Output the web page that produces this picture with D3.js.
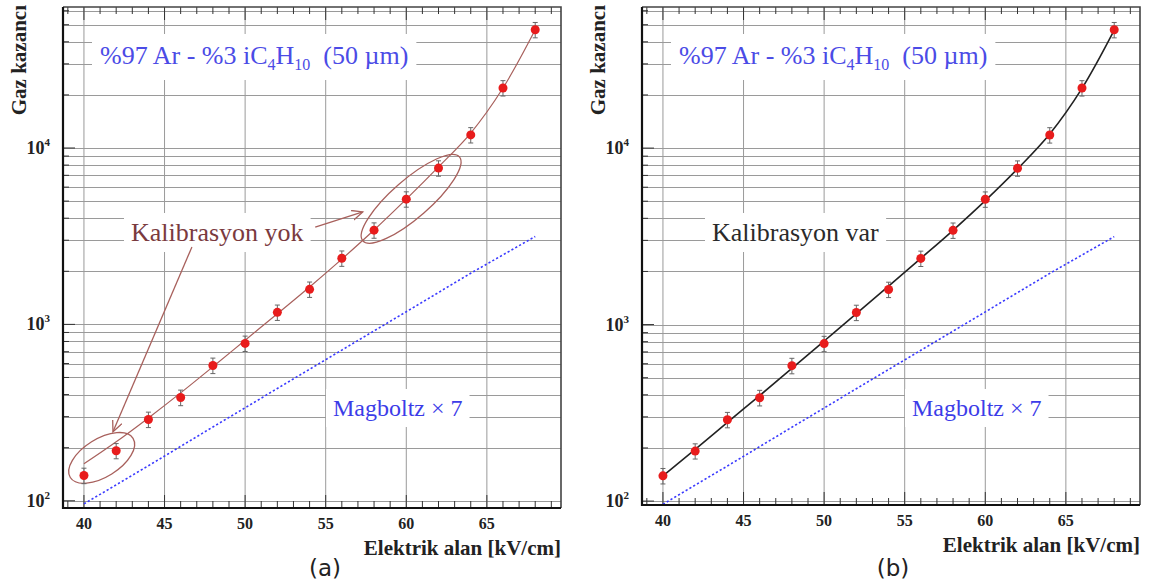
<!DOCTYPE html>
<html>
<head>
<meta charset="utf-8">
<script src="https://cdnjs.cloudflare.com/ajax/libs/d3/7.8.5/d3.min.js"></script>
<style>
  body { margin: 0; background: #fff; }
  svg { display: block; }
</style>
</head>
<body>
<svg id="chart" width="1152" height="582"></svg>
<script>
// Measured gas gain vs. electric field, %97 Ar - %3 iC4H10, 50 µm gap
const fieldKV = [40, 42, 44, 46, 48, 50, 52, 54, 56, 58, 60, 62, 64, 66, 68];
const gasGain = [139, 192, 289, 385, 585, 780, 1170, 1580, 2370, 3420, 5130, 7690, 11860, 21900, 46800];
const gasGainErr = [14, 19, 29, 39, 59, 78, 117, 158, 237, 342, 513, 769, 1186, 2190, 4680];

// Fitted curves: without calibration (a) and with calibration (b)
const fitUncalibrated = [162, 216, 295, 409, 575, 813, 1148, 1629, 2344, 3428, 5129, 7816, 12160, 21880, 46770];
const fitCalibrated = [139, 196, 279, 396, 565, 807, 1153, 1652, 2371, 3420, 5035, 7620, 12020, 21780, 46560];

// Magboltz simulation, scaled by 7
const magboltzField = [40, 44, 48, 52, 56, 60, 64, 68];
const magboltzGain = [96, 158, 262, 433, 715, 1180, 1950, 3150];

const xTicks = [40, 45, 50, 55, 60, 65];
const yDecades = [2, 3, 4];

const serif = "'Liberation Serif', 'Times New Roman', serif";
const svg = d3.select("#chart");

const defs = svg.append("defs");
defs.append("marker")
  .attr("id", "openArrow")
  .attr("markerUnits", "userSpaceOnUse")
  .attr("markerWidth", 14).attr("markerHeight", 12)
  .attr("refX", 11).attr("refY", 5)
  .attr("orient", "auto")
  .append("path")
  .attr("d", "M0,0 L11,5 L0,10")
  .attr("fill", "none")
  .attr("stroke", "#a8605c")
  .attr("stroke-width", 1.3);

const panels = [
  { left: 63, right: 561, top: 7, bottom: 508, yMin: 91, fit: fitUncalibrated,
    fitColor: "#a8605c", fitWidth: 1.2, tag: "(a)", tagX: 325, calibrated: false },
  { left: 642, right: 1140, top: 7, bottom: 505, yMin: 95, fit: fitCalibrated,
    fitColor: "#222", fitWidth: 1.6, tag: "(b)", tagX: 893, calibrated: true }
];

function boxedText(g, x, y, parts, opts) {
  const t = g.append("text")
    .attr("x", x).attr("y", y)
    .attr("font-family", serif)
    .attr("font-size", opts.size)
    .attr("fill", opts.color);
  parts.forEach(p => {
    const s = t.append("tspan").text(p.text);
    if (p.size) s.attr("font-size", p.size);
    if (p.dy) s.attr("dy", p.dy);
  });
  const bb = t.node().getBBox();
  g.insert("rect", () => t.node())
    .attr("x", bb.x - opts.padX).attr("y", bb.y - opts.padY)
    .attr("width", bb.width + 2 * opts.padX).attr("height", bb.height + 2 * opts.padY)
    .attr("fill", "#fff");
  return t;
}

panels.forEach(p => {
  const g = svg.append("g");
  const x = d3.scaleLinear().domain([38.7, 69.6]).range([p.left, p.right]);
  const y = d3.scaleLog().domain([p.yMin, 63000]).range([p.bottom, p.top]);

  // grid: vertical at major x ticks, horizontal at every log tick
  const yGrid = [];
  for (let d = 1; d <= 4; d++) {
    for (let m = 1; m <= 9; m++) {
      const v = m * Math.pow(10, d);
      if (v > p.yMin && v < 63000) yGrid.push(v);
    }
  }
  const grid = g.append("g").attr("stroke", "#9a9a9a").attr("stroke-width", 1).attr("fill", "none");
  grid.selectAll("line.gx").data(xTicks).join("line")
    .attr("x1", d => x(d)).attr("x2", d => x(d))
    .attr("y1", p.top).attr("y2", p.bottom);
  grid.selectAll("line.gy").data(yGrid).join("line")
    .attr("x1", p.left).attr("x2", p.right)
    .attr("y1", d => Math.round(y(d)) + 0.5).attr("y2", d => Math.round(y(d)) + 0.5);

  // tick marks on the frame
  const minorX = d3.range(39, 70, 1);
  const ticks = g.append("g").attr("stroke", "#333").attr("stroke-width", 1);
  ticks.selectAll("line.bt").data(minorX).join("line")
    .attr("x1", d => x(d)).attr("x2", d => x(d))
    .attr("y1", p.bottom).attr("y2", d => p.bottom - (d % 5 === 0 ? 13 : 7));
  ticks.selectAll("line.tt").data(minorX).join("line")
    .attr("x1", d => x(d)).attr("x2", d => x(d))
    .attr("y1", p.top).attr("y2", d => p.top + (d % 5 === 0 ? 13 : 7));
  ticks.selectAll("line.lt").data(yGrid).join("line")
    .attr("x1", p.left).attr("x2", d => p.left + (yDecades.includes(Math.log10(d)) ? 12 : 6))
    .attr("y1", d => y(d)).attr("y2", d => y(d));

  // text boxes
  const ann = g.append("g");
  boxedText(ann, p.left + 37, 64, [
    { text: "%97 Ar - %3 iC" },
    { text: "4", size: 16, dy: 6 },
    { text: "H", dy: -6 },
    { text: "10", size: 16, dy: 6 },
    { text: "\u00a0\u00a0(50 \u00b5m)", dy: -6 }
  ], { size: 26, color: "#4b4be6", padX: 8, padY: 7 });

  boxedText(ann, p.left + 270, 416, [{ text: "Magboltz \u00d7 7" }],
    { size: 24, color: "#3c3ce8", padX: 7, padY: 6 });

  if (p.calibrated) {
    boxedText(ann, p.left + 70, 241, [{ text: "Kalibrasyon var" }],
      { size: 26, color: "#2a2a2a", padX: 7, padY: 5 });
  } else {
    boxedText(ann, p.left + 68, 241, [{ text: "Kalibrasyon yok" }],
      { size: 26, color: "#7a3a3e", padX: 7, padY: 5 });

    // ellipses around the points that were off before calibration
    const ring = ann.append("g").attr("fill", "none").attr("stroke", "#a8605c").attr("stroke-width", 1.3);
    ring.append("ellipse")
      .attr("transform", `translate(${x(41.1)},${y(175)}) rotate(-32)`)
      .attr("rx", 37).attr("ry", 19);
    ring.append("ellipse")
      .attr("transform", `translate(${x(60.3)},${y(5150)}) rotate(-41)`)
      .attr("rx", 64).attr("ry", 19);

    const arrows = ann.append("g").attr("stroke", "#a8605c").attr("stroke-width", 1.3)
      .attr("marker-end", "url(#openArrow)");
    arrows.append("line")
      .attr("x1", x(46.7)).attr("y1", y(2750))
      .attr("x2", x(41.8)).attr("y2", y(246));
    arrows.append("line")
      .attr("x1", x(54.35)).attr("y1", y(3565))
      .attr("x2", x(57.3)).attr("y2", y(4340));
  }

  // Magboltz x7 (dotted)
  g.append("path")
    .datum(magboltzField.map((f, i) => [f, magboltzGain[i]]))
    .attr("fill", "none")
    .attr("stroke", "#3a3aff")
    .attr("stroke-width", 1.6)
    .attr("stroke-dasharray", "2.2,2.2")
    .attr("d", d3.line().x(d => x(d[0])).y(d => y(d[1])));

  // fitted curve
  g.append("path")
    .datum(fieldKV.map((f, i) => [f, p.fit[i]]))
    .attr("fill", "none")
    .attr("stroke", p.fitColor)
    .attr("stroke-width", p.fitWidth)
    .attr("d", d3.line().curve(d3.curveCatmullRom).x(d => x(d[0])).y(d => y(d[1])));

  // data points with error bars
  const pts = fieldKV.map((f, i) => ({ f, v: gasGain[i], e: gasGainErr[i] }));
  const eb = g.append("g").attr("stroke", "#666").attr("stroke-width", 1);
  eb.selectAll("line.bar").data(pts).join("line")
    .attr("x1", d => x(d.f)).attr("x2", d => x(d.f))
    .attr("y1", d => y(d.v - d.e)).attr("y2", d => y(d.v + d.e));
  eb.selectAll("line.capT").data(pts).join("line")
    .attr("x1", d => x(d.f) - 2.5).attr("x2", d => x(d.f) + 2.5)
    .attr("y1", d => y(d.v + d.e)).attr("y2", d => y(d.v + d.e));
  eb.selectAll("line.capB").data(pts).join("line")
    .attr("x1", d => x(d.f) - 2.5).attr("x2", d => x(d.f) + 2.5)
    .attr("y1", d => y(d.v - d.e)).attr("y2", d => y(d.v - d.e));
  g.append("g").selectAll("circle").data(pts).join("circle")
    .attr("cx", d => x(d.f)).attr("cy", d => y(d.v))
    .attr("r", 4.5).attr("fill", "#e81c1c");

  // frame
  g.append("path")
    .attr("d", `M${p.left},${p.top} H${p.right} V${p.bottom}`)
    .attr("fill", "none").attr("stroke", "#444").attr("stroke-width", 1.6);
  g.append("path")
    .attr("d", `M${p.left},${p.top} V${p.bottom} H${p.right}`)
    .attr("fill", "none").attr("stroke", "#111").attr("stroke-width", 2.2);

  // axis labels
  g.append("g").selectAll("text").data(xTicks).join("text")
    .attr("x", d => x(d)).attr("y", p.bottom + 21)
    .attr("text-anchor", "middle")
    .attr("font-family", serif).attr("font-weight", "bold")
    .attr("font-size", 16).attr("fill", "#222")
    .text(d => d);

  const yl = g.append("g").selectAll("text").data(yDecades).join("text")
    .attr("x", p.left - 13).attr("y", d => y(Math.pow(10, d)) + 6)
    .attr("text-anchor", "end")
    .attr("font-family", serif).attr("font-weight", "bold")
    .attr("font-size", 18).attr("fill", "#222");
  yl.append("tspan").text("10");
  yl.append("tspan").attr("dy", -8).attr("font-size", 11).text(d => d);

  g.append("text")
    .attr("x", p.right).attr("y", p.bottom + 47)
    .attr("text-anchor", "end")
    .attr("font-family", serif).attr("font-weight", "bold")
    .attr("font-size", 21).attr("fill", "#222")
    .text("Elektrik alan [kV/cm]");

  g.append("text")
    .attr("transform", `translate(${p.left - 37},${p.top - 2}) rotate(-90)`)
    .attr("text-anchor", "end")
    .attr("font-family", serif).attr("font-weight", "bold")
    .attr("font-size", 21).attr("fill", "#222")
    .text("Gaz kazancı");

  g.append("text")
    .attr("x", p.tagX).attr("y", 576)
    .attr("text-anchor", "middle")
    .attr("font-family", "'DejaVu Sans', sans-serif")
    .attr("font-size", 23).attr("fill", "#222")
    .text(p.tag);
});
</script>
</body>
</html>
